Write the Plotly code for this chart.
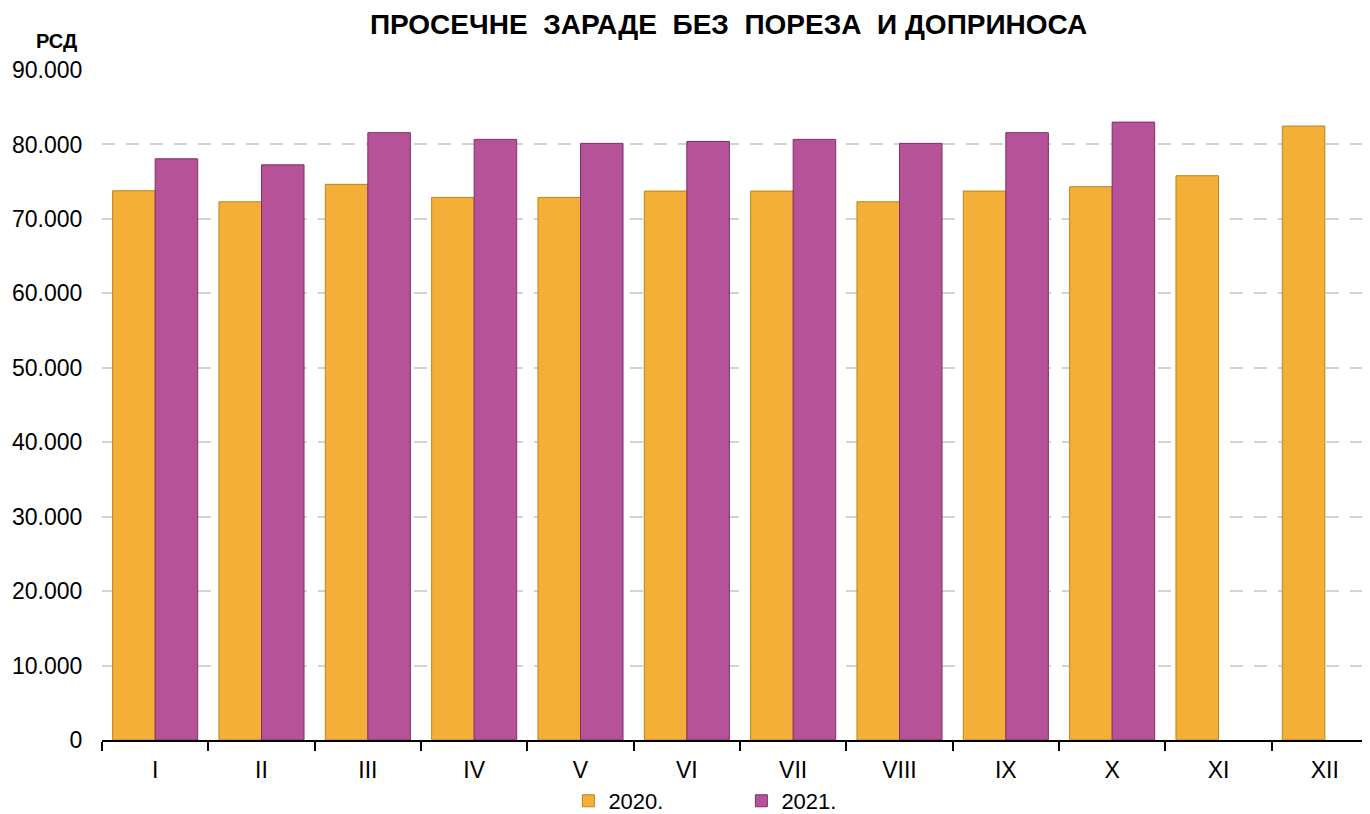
import plotly.graph_objects as go

months = ["I", "II", "III", "IV", "V", "VI", "VII", "VIII", "IX", "X", "XI", "XII"]
y2020 = [73780, 72300, 74640, 72880, 72880, 73740, 73740, 72300, 73740, 74320, 75800, 82470]
y2021 = [78070, 77260, 81580, 80680, 80140, 80400, 80680, 80140, 81580, 83000, None, None]
ytick_vals = [0, 10000, 20000, 30000, 40000, 50000, 60000, 70000, 80000, 90000]
ytick_text = ["0", "10.000", "20.000", "30.000", "40.000", "50.000", "60.000", "70.000", "80.000", "90.000"]

FONT = "Liberation Sans, Arial, sans-serif"

fig = go.Figure()
fig.add_trace(go.Bar(
    x=months, y=y2020, name="2020.",
    marker=dict(color="#F3AF38", line=dict(color="#B98420", width=1)),
))
fig.add_trace(go.Bar(
    x=months, y=y2021, name="2021.",
    marker=dict(color="#B65298", line=dict(color="#7E3068", width=1)),
))

fig.update_layout(
    width=1370, height=814,
    margin=dict(l=94, r=0, t=62, b=82, autoexpand=False),
    paper_bgcolor="white", plot_bgcolor="white",
    barmode="group", bargap=0.2, bargroupgap=0.0,
    font=dict(family=FONT, size=23, color="#000000"),
    title=dict(text="<b>ПРОСЕЧНЕ  ЗАРАДЕ  БЕЗ  ПОРЕЗА  И ДОПРИНОСА</b>",
               x=0.526, xanchor="center", y=0.980, yanchor="middle",
               font=dict(family=FONT, size=28, color="#000000")),
    legend=dict(orientation="h", x=0.3655, xanchor="left", y=-0.091, yanchor="middle",
                font=dict(family=FONT, size=22), itemwidth=30, entrywidth=128,
                traceorder="normal"),
    annotations=[dict(text="<b>РСД</b>", xref="paper", yref="paper", x=-0.0355, y=1.043,
                      xanchor="center", yanchor="middle", showarrow=False,
                      font=dict(family=FONT, size=20, color="#000000"))],
)
fig.update_xaxes(
    automargin=False,
    showline=True, linecolor="#000000", linewidth=2,
    ticks="outside", tickson="boundaries", ticklen=9, tickcolor="#000000", tickwidth=2,
    showgrid=False, tickfont=dict(family=FONT, size=23), ticklabelstandoff=8,
)
fig.update_yaxes(
    automargin=False,
    range=[0, 90000], tickvals=ytick_vals, ticktext=ytick_text,
    showline=False, showgrid=True, gridcolor="#D3D3D3", gridwidth=2,
    griddash="13px,11px", zeroline=False,
    ticks="outside", ticklen=14, tickcolor="rgba(0,0,0,0)",
    tickfont=dict(family=FONT, size=23),
)

fig.write_html("out.html")
